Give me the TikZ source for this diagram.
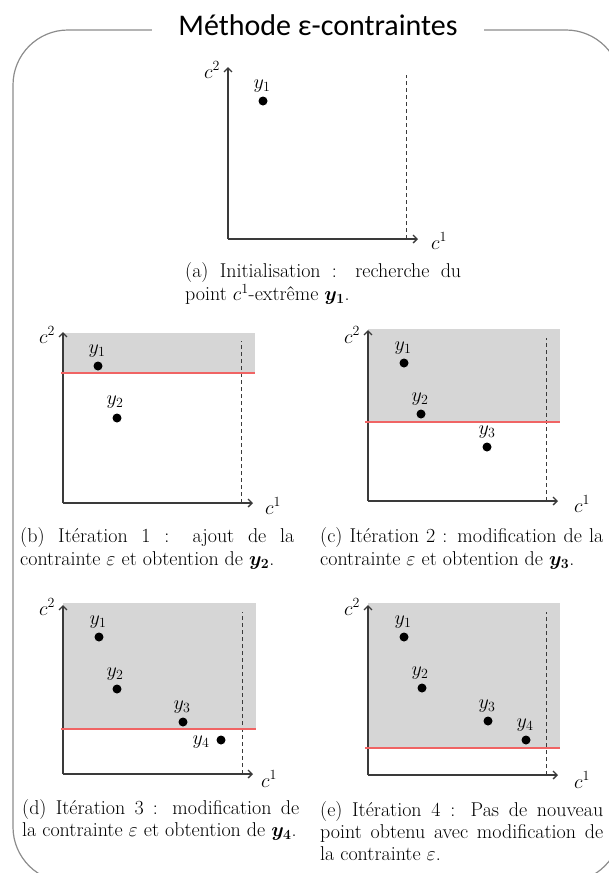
\documentclass[tikz,border=0pt]{standalone}
\usepackage{fix-cm}
\usepackage{fontspec}
\usetikzlibrary{arrows.meta}
\newfontfamily\titlefont{Carlito}
\definecolor{axisgray}{HTML}{3A3A3A}
\definecolor{zonegray}{HTML}{D6D6D6}
\definecolor{redline}{HTML}{F06464}
\definecolor{framegray}{HTML}{8C8C8C}
\tikzset{
  axisline/.style={draw=axisgray, line width=1.3pt, -{Straight Barb[length=4pt,width=8pt]}},
  dashline/.style={draw=axisgray, line width=1pt, dash pattern=on 4pt off 3pt},
  epsline/.style={draw=redline, line width=1.8pt},
  zone/.style={fill=zonegray},
  dot/.style={circle, fill=black, inner sep=0pt, minimum size=9pt},
  lbl/.style={inner sep=0pt, font=\fontsize{20}{22}\selectfont},
  cap/.style={inner sep=0pt, anchor=north west, text width=#1, align=justify,
              font=\fontsize{20}{23.5}\selectfont},
  capsm/.style={font=\fontsize{20}{22}\selectfont},
  titlenode/.style={fill=white, inner xsep=26pt, inner ysep=2pt,
              font=\titlefont\fontsize{30}{33}\selectfont},
  frame/.style={draw=framegray, line width=1.2pt, rounded corners=55pt}
}
\begin{document}
\begin{tikzpicture}[x=1pt,y=-1pt]
\useasboundingbox (0,0) rectangle (609,873);
\clip (0,0) rectangle (609,873);
\draw[frame] (13,30) rectangle (621,882);
\node[titlenode] (title) at (318,25) {Méthode ε-contraintes};

% ---------- (a)
\begin{scope}[shift={(228,239)}]
  \coordinate (ao) at (0,0);
  \coordinate (ax) at (190,0);
  \coordinate (ay) at (0,-172);
  \coordinate (ad0) at (178,0);
  \coordinate (ad1) at (178,-164);
  \draw[dashline] (ad0) -- (ad1);
  \draw[axisline] (ao) -- (ax);
  \draw[axisline] (ao) -- (ay);
  \node[lbl] (ac2) at (-16,-169) {$c^2$};
  \node[lbl] (ac1) at (211,2) {$c^1$};
  \node[dot] (ap1) at (35,-138) {};
  \node[lbl] (ay1) at (34,-153) {$y_1$};
\end{scope}
\node[cap=276pt] (capa) at (185,262) {(a) Initialisation : recherche du\linebreak point $c^1$-extrême {\boldmath$y_1$}.};

% ---------- (b)
\begin{scope}[shift={(63,503)}]
  \coordinate (bo) at (0,0);
  \coordinate (bx) at (190,0);
  \coordinate (by) at (0,-171);
  \coordinate (bz0) at (0,-170);
  \coordinate (bz1) at (192,-130);
  \coordinate (br0) at (-2,-130);
  \coordinate (br1) at (192,-130);
  \coordinate (bd0) at (178,0);
  \coordinate (bd1) at (178,-162);
  \fill[zone] (bz0) rectangle (bz1);
  \draw[dashline] (bd0) -- (bd1);
  \draw[axisline] (bo) -- (bx);
  \draw[axisline] (bo) -- (by);
  \draw[epsline] (br0) -- (br1);
  \node[lbl] (bc2) at (-16,-168) {$c^2$};
  \node[lbl] (bc1) at (210,3) {$c^1$};
  \node[dot] (bp1) at (35,-137) {};
  \node[lbl] (by1) at (34,-152) {$y_1$};
  \node[dot] (bp2) at (54,-85) {};
  \node[lbl] (by2) at (52,-101) {$y_2$};
\end{scope}
\node[cap=274pt] (capb) at (20,527) {(b) Itération 1 : ajout de la\linebreak contrainte $\varepsilon$ et obtention de {\boldmath$y_2$}.};

% ---------- (c)
\begin{scope}[shift={(368,501)}]
  \coordinate (co) at (0,0);
  \coordinate (cx) at (190,0);
  \coordinate (cy) at (0,-171);
  \coordinate (cz0) at (0,-172);
  \coordinate (cz1) at (192,-79);
  \coordinate (cr0) at (-3,-79);
  \coordinate (cr1) at (192,-79);
  \coordinate (cd0) at (178,0);
  \coordinate (cd1) at (178,-163);
  \fill[zone] (cz0) rectangle (cz1);
  \draw[dashline] (cd0) -- (cd1);
  \draw[axisline] (co) -- (cx);
  \draw[axisline] (co) -- (cy);
  \draw[epsline] (cr0) -- (cr1);
  \node[lbl] (cc2) at (-16,-166) {$c^2$};
  \node[lbl] (cc1) at (214,3) {$c^1$};
  \node[dot] (cp1) at (36,-138) {};
  \node[lbl] (cy1) at (35,-153) {$y_1$};
  \node[dot] (cp2) at (53,-87) {};
  \node[lbl] (cy2) at (52,-102) {$y_2$};
  \node[dot] (cp3) at (119,-54) {};
  \node[lbl] (cy3) at (119,-69) {$y_3$};
\end{scope}
\node[cap=283pt] (capc) at (320,527) {(c) Itération 2 : modification de la\linebreak contrainte $\varepsilon$ et obtention de {\boldmath$y_3$}.};

% ---------- (d)
\begin{scope}[shift={(63,774)}]
  \coordinate (do) at (0,0);
  \coordinate (dx) at (190,0);
  \coordinate (dy) at (0,-169);
  \coordinate (dz0) at (0,-171);
  \coordinate (dz1) at (193,-45);
  \coordinate (dr0) at (-2,-45);
  \coordinate (dr1) at (193,-45);
  \coordinate (dd0) at (179,0);
  \coordinate (dd1) at (179,-162);
  \fill[zone] (dz0) rectangle (dz1);
  \draw[dashline] (dd0) -- (dd1);
  \draw[axisline] (do) -- (dx);
  \draw[axisline] (do) -- (dy);
  \draw[epsline] (dr0) -- (dr1);
  \node[lbl] (dc2) at (-16,-167) {$c^2$};
  \node[lbl] (dc1) at (206,5) {$c^1$};
  \node[dot] (dp1) at (36,-137) {};
  \node[lbl] (dy1) at (35,-152) {$y_1$};
  \node[dot] (dp2) at (54,-85) {};
  \node[lbl] (dy2) at (52,-100) {$y_2$};
  \node[dot] (dp3) at (120,-52) {};
  \node[lbl] (dy3) at (119,-67) {$y_3$};
  \node[dot] (dp4) at (158,-34) {};
  \node[lbl] (dy4) at (138,-32) {$y_4$};
\end{scope}
\node[cap=277pt, capsm] (capd) at (22,799) {(d) Itération 3 : modification de\linebreak la contrainte $\varepsilon$ et obtention de {\boldmath$y_4$}.};

% ---------- (e)
\begin{scope}[shift={(368,775)}]
  \coordinate (eo) at (0,0);
  \coordinate (ex) at (190,0);
  \coordinate (ey) at (0,-170);
  \coordinate (ez0) at (0,-172);
  \coordinate (ez1) at (192,-27);
  \coordinate (er0) at (-3,-27);
  \coordinate (er1) at (192,-27);
  \coordinate (ed0) at (178,0);
  \coordinate (ed1) at (178,-163);
  \fill[zone] (ez0) rectangle (ez1);
  \draw[dashline] (ed0) -- (ed1);
  \draw[axisline] (eo) -- (ex);
  \draw[axisline] (eo) -- (ey);
  \draw[epsline] (er0) -- (er1);
  \node[lbl] (ec2) at (-16,-168) {$c^2$};
  \node[lbl] (ec1) at (214,5) {$c^1$};
  \node[dot] (ep1) at (36,-138) {};
  \node[lbl] (ey1) at (35,-153) {$y_1$};
  \node[dot] (ep2) at (54,-87) {};
  \node[lbl] (ey2) at (52,-102) {$y_2$};
  \node[dot] (ep3) at (120,-54) {};
  \node[lbl] (ey3) at (119,-69) {$y_3$};
  \node[dot] (ep4) at (158,-35) {};
  \node[lbl] (ey4) at (157,-50) {$y_4$};
\end{scope}
\node[cap=283pt, capsm] (cape) at (320,801) {(e) Itération 4 : Pas de nouveau\linebreak point obtenu avec modification de\linebreak la contrainte $\varepsilon$.};
\end{tikzpicture}
\end{document}
